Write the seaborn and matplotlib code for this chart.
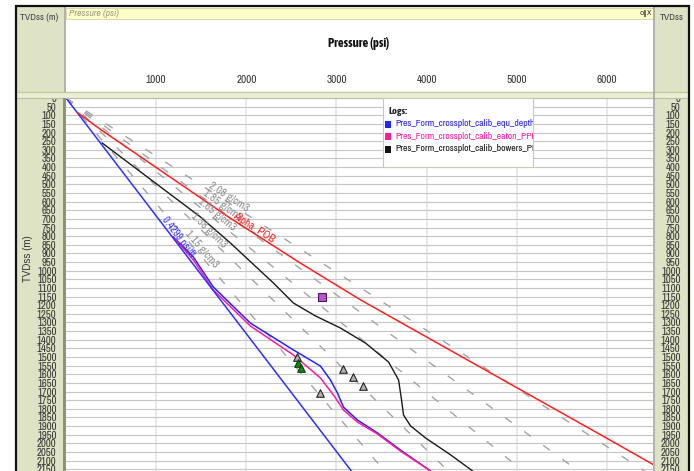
import numpy as np
import matplotlib
matplotlib.use("Agg")
import matplotlib.pyplot as plt
from matplotlib.patches import Rectangle
from matplotlib.lines import Line2D
import seaborn as sns

W, H = 694, 471

# axis ranges / ticks
p_max = 6511
d_max = 2160
p_ticks = [1000, 2000, 3000, 4000, 5000, 6000]
d_ticks = list(range(0, 2151, 50))

# hydrostatic line (straight blue)
hydro_press = [0, 3165]
hydro_depth = [0, 2160]
hydro_label = "0.4299 psi/ft"

# density gradient lines, pressure reached at 2160 m
grad_names = ["2.08 g/cm3", "1.85 g/cm3", "1.65 g/cm3", "1.38 g/cm3", "1.15 g/cm3"]
grad_press_bottom = [6420, 5684, 5069, 4240, 3533]
grad_label_press = [1560, 1496, 1440, 1362, 1296]

# overburden (Alpha_POB)
pob_press = [126, 378, 1822, 2600, 3267, 5933, 6522]
pob_depth = [84, 180, 696, 956, 1169, 1951, 2125]

# bowers PP
bowers_press = [400, 1489, 1822, 2300, 2522, 2767, 3044, 3322, 3578, 3689, 3722, 3744, 3822, 3989, 4267, 4511]
bowers_depth = [260, 688, 839, 1071, 1187, 1262, 1332, 1419, 1529, 1633, 1749, 1836, 1899, 1969, 2067, 2160]

# equivalent depth PP
equ_press = [1189, 1411, 1633, 2044, 2522, 2822, 2933, 3011, 3078, 3233, 3456, 3711, 4044]
equ_depth = [804, 920, 1094, 1303, 1459, 1552, 1633, 1708, 1790, 1865, 1940, 2039, 2160]

# eaton PP
eaton_press = [1189, 1411, 1633, 2044, 2522, 2822, 2967, 3078, 3233, 3456, 3711, 4044]
eaton_depth = [804, 937, 1111, 1320, 1488, 1621, 1720, 1807, 1877, 1946, 2045, 2160]

# calibration points
gray_pts_press = [2567, 3078, 3178, 3289, 2822]
gray_pts_depth = [1499, 1569, 1615, 1667, 1708]
green_pts_press = [2578, 2611]
green_pts_depth = [1534, 1563]
square_press = [2844]
square_depth = [1152]

legend_names = ["Pres_Form_crossplot_calib_equ_depth_PPP",
                "Pres_Form_crossplot_calib_eaton_PPP",
                "Pres_Form_crossplot_calib_bowers_PPP"]
legend_colors = ["#2424ff", "#ff1aa0", "#111111"]

sns.set_style("white")
NARROW = ["Archivo Narrow", "Liberation Sans", "DejaVu Sans"]
BOLDN = ["Asap Condensed", "Liberation Sans", "DejaVu Sans"]
plt.rcParams["font.family"] = NARROW

BEIGE = "#dfe3c5"

fig = plt.figure(figsize=(W / 100, H / 100), dpi=100)
fig.patch.set_facecolor("white")


def box(x0, y0, x1, y1):
    return [x0 / W, 1 - y1 / H, (x1 - x0) / W, (y1 - y0) / H]


def frect(x0, y0, x1, y1, color, z, ec="none", lw=0):
    r = Rectangle((x0 / W, 1 - y1 / H), (x1 - x0) / W, (y1 - y0) / H, transform=fig.transFigure,
                  facecolor=color, edgecolor=ec, lw=lw, zorder=z)
    fig.add_artist(r)
    return r


def fline(x0, y0, x1, y1, color, lw, z=10):
    fig.add_artist(Line2D([x0 / W, x1 / W], [1 - y0 / H, 1 - y1 / H], transform=fig.transFigure,
                          color=color, lw=lw, zorder=z, solid_capstyle="butt"))


def ftext(x, y, s, **kw):
    kw.setdefault("zorder", 8)
    return fig.text(x / W, 1 - y / H, s, **kw)


# panels
frect(17, 7, 64, 471, BEIGE, -2)
frect(655, 7, 688, 471, BEIGE, -2)
frect(66, 8, 654, 19, "#fdfdca", 4, ec="#d2d2a6", lw=0.6)
frect(17, 92, 688, 97.5, "#eaeed6", 5)
fline(17, 92.3, 688, 92.3, "#c3cb96", 1.0, z=5)
fline(17, 97.5, 688, 97.5, "#b9bea4", 0.8, z=5)
frect(63, 97.5, 66, 471, "#8e9278", 5)
fline(65, 7, 65, 92, "#a2a696", 1.2, z=5)
fline(653.5, 7, 653.5, 471, "#a4a4a4", 1.2, z=5)

# black frame
fline(15, 5.5, 690, 5.5, "#111111", 1.6)
fline(15.6, 5, 15.6, 471, "#111111", 1.6)
fline(689, 5, 689, 471, "#111111", 1.6)

ftext(20, 17, "TVDss (m)", fontsize=7, color="#444444", va="center")
ftext(660, 17, "TVDss", fontsize=7, color="#444444", va="center")
ftext(69, 13.5, "Pressure (psi)", fontsize=7, color="#9e9e80", style="italic", va="center")
ftext(652, 13.5, "o\u2016X", fontsize=5, color="#222222", ha="right", va="center", family="DejaVu Sans")
ftext(359, 44, "Pressure (psi)", fontsize=9, fontweight="bold", color="#111111", ha="center", va="center",
      family=BOLDN)
ftext(28, 259, "TVDss (m)", fontsize=7, color="#333333", rotation=90, ha="center", va="center",
      family=["Liberation Sans", "DejaVu Sans"])

# header axis with pressure ticks
hdr = fig.add_axes(box(66, 19, 653, 92))
hdr.set_facecolor("none")
hdr.set_xlim(0, p_max)
hdr.set_yticks([])
hdr.set_xticks(p_ticks)
hdr.set_xticklabels([str(v) for v in p_ticks])
hdr.tick_params(axis="x", direction="in", length=3, width=0.8, color="#999999", pad=-12.5,
                labelsize=8, labelcolor="#333333")
for s in hdr.spines.values():
    s.set_visible(False)

# main plot
ax = fig.add_axes(box(66, 98, 653, 471))
ax.set_facecolor("white")
ax.set_xlim(0, p_max)
ax.set_ylim(d_max, 0)
ax.set_xticks(p_ticks)
ax.set_yticks(d_ticks)
ax.tick_params(left=False, bottom=False, labelleft=False, labelbottom=False)
ax.grid(axis="y", color="#c6c6c6", lw=0.8)
ax.grid(axis="x", color="#e6e6e6", lw=1.3)
ax.set_axisbelow(True)
for s in ax.spines.values():
    s.set_visible(False)

# gradient dashed lines
for pb in grad_press_bottom:
    sns.lineplot(x=[0, pb], y=[0, d_max], ax=ax, color="#a4a4a4", lw=1.0, sort=False,
                 estimator=None, linestyle=(0, (6, 11)))

sns.lineplot(x=bowers_press, y=bowers_depth, ax=ax, color="#1a1a1a", lw=1.0, sort=False, estimator=None)
sns.lineplot(x=equ_press, y=equ_depth, ax=ax, color="#2424ff", lw=1.1, sort=False, estimator=None)
sns.lineplot(x=eaton_press, y=eaton_depth, ax=ax, color="#ff1aa0", lw=1.1, sort=False, estimator=None)
sns.lineplot(x=hydro_press, y=hydro_depth, ax=ax, color="#3030ff", lw=1.1, sort=False, estimator=None)
sns.lineplot(x=pob_press, y=pob_depth, ax=ax, color="#ff2020", lw=1.1, sort=False, estimator=None)

sns.scatterplot(x=gray_pts_press, y=gray_pts_depth, ax=ax, marker="^", s=30, color="#b4b4b4",
                edgecolor="#222222", linewidth=0.8, zorder=5)
sns.scatterplot(x=green_pts_press, y=green_pts_depth, ax=ax, marker="^", s=30, color="#138a13",
                edgecolor="#0b3d0b", linewidth=0.8, zorder=5)
sns.scatterplot(x=square_press, y=square_depth, ax=ax, marker="s", s=28, color="#b455d2",
                edgecolor="#4a1a5a", linewidth=0.8, zorder=5)


def line_label(xs, ys, p_at, text, color, size, style="normal"):
    xs = np.asarray(xs, float)
    ys = np.asarray(ys, float)
    d_at = np.interp(p_at, xs, ys)
    i = int(np.clip(np.searchsorted(xs, p_at), 1, len(xs) - 1))
    a = ax.transData.transform((xs[i - 1], ys[i - 1]))
    b = ax.transData.transform((xs[i], ys[i]))
    ang = np.degrees(np.arctan2(b[1] - a[1], b[0] - a[0]))
    ax.text(p_at, d_at, text, color=color, fontsize=size, rotation=ang, rotation_mode="anchor",
            ha="left", va="bottom", style=style, zorder=6)


for name, pb, pl in zip(grad_names, grad_press_bottom, grad_label_press):
    line_label([0, pb], [0, d_max], pl, name, "#8c8c8c", 8)
line_label(hydro_press, hydro_depth, 1040, hydro_label, "#3030ff", 7.5)
line_label(pob_press, pob_depth, 1830, "Alpha_POB", "#ff2020", 8)

# left depth ticks
lt = fig.add_axes(box(58, 98, 63, 471))
lt.set_facecolor("none")
lt.set_ylim(d_max, 0)
lt.set_xticks([])
lt.set_yticks(d_ticks)
lt.set_yticklabels([str(v) for v in d_ticks])
lt.tick_params(axis="y", direction="in", length=3.6, width=0.9, color="#333333", pad=1,
               labelsize=7.8, labelcolor="#333333")
for s in lt.spines.values():
    s.set_visible(False)

# right depth ticks
rt = fig.add_axes(box(682, 98, 688, 471))
rt.set_facecolor("none")
rt.set_ylim(d_max, 0)
rt.set_xticks([])
rt.set_yticks(d_ticks)
rt.set_yticklabels([str(v) for v in d_ticks])
rt.tick_params(axis="y", direction="in", length=3.6, width=0.9, color="#333333", pad=1,
               labelsize=7.8, labelcolor="#333333")
for s in rt.spines.values():
    s.set_visible(False)

# legend box
lg = frect(383, 98, 533, 167, "white", 6, ec="#c9c9b4", lw=0.8)
ftext(389, 112, "Logs:", fontsize=7.5, fontweight="bold", color="#222222", va="center", family=BOLDN)
for k, (nm, c) in enumerate(zip(legend_names, legend_colors)):
    yy = 124 + k * 12.5
    frect(385, yy - 3.5, 391, yy + 3.5, c, 7)
    t = ftext(395, yy, nm, fontsize=7, color=c, va="center")
    t.set_clip_path(lg)

fig.savefig("out.png", dpi=100)
